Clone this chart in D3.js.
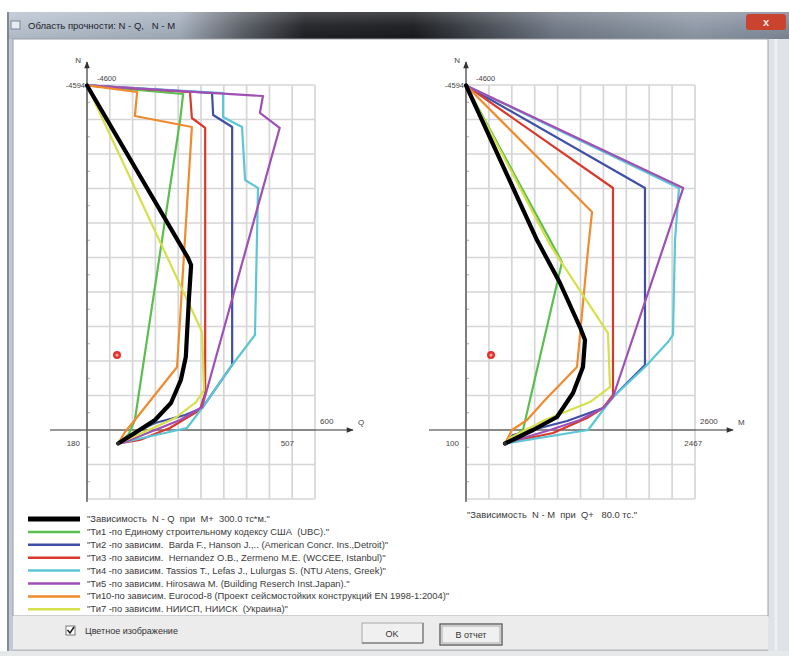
<!DOCTYPE html>
<html><head><meta charset="utf-8">
<script src="https://cdn.jsdelivr.net/npm/d3@7"></script>
<style>
body{margin:0;background:#fff;}
svg{display:block;font-family:"Liberation Sans",Arial,sans-serif;}
text{white-space:pre;}
</style>
</head><body>
<svg id="c" width="789" height="656"></svg>
<script>
// ---------------- DATA ----------------
const titleText = "Область прочности: N - Q,   N - M";
const seriesLabels = [
  "\"Зависимость  N - Q  при  M+  300.0 тс*м.\"",
  "\"Ти1 -по Единому строительному кодексу США  (UBC).\"",
  "\"Ти2 -по зависим.  Barda F., Hanson J.,.. (American Concr. Ins.,Detroit)\"",
  "\"Ти3 -по зависим.  Hernandez O.B., Zermeno M.E. (WCCEE, Istanbul)\"",
  "\"Ти4 -по зависим. Tassios T., Lefas J., Lulurgas S. (NTU Atens, Greek)\"",
  "\"Ти5 -по зависим. Hirosawa M. (Building Reserch Inst.Japan).\"",
  "\"Ти10-по зависим. Eurocod-8 (Проект сейсмостойких конструкций EN 1998-1:2004)\"",
  "\"Ти7 -по зависим. НИИСП, НИИСК  (Украина)\""
];
const seriesColors = ["#000000","#5bbf4e","#3f4fa8","#d8392b","#5cc6d6","#a04fb5","#f08a2c","#d6e04a"];
const rightCaption = "\"Зависимость  N - M  при  Q+   80.0 тс.\"";

// N - Q curves (Q values, N values) per series, same order as labels
const nqQ = [
  [0,266,274,268,260,247,221,179,126,82],
  [0,253,245,126,110,82],
  [0,329,332,382,382,303,258,179,113,82],
  [0,271,276,311,311,297,218,139,82],
  [0,358,358,408,416,450,442,382,303,263,82],
  [0,463,455,507,303,245,166,100,82],
  [0,132,126,276,237,126,100,82],
  [0,303,308,287,232,139,82]
];
const nqN = [
  [-4594,-2293,-2200,-1733,-973,-667,-360,-133,40,180],
  [-4594,-4480,-4133,-133,53,180],
  [-4594,-4493,-4200,-4040,-867,-293,-200,-93,67,180],
  [-4594,-4507,-4160,-4027,-493,-267,-27,133,180],
  [-4594,-4493,-4173,-4040,-3333,-3227,-1267,-867,-293,-27,180],
  [-4594,-4453,-4227,-4027,-307,-133,27,160,180],
  [-4594,-4507,-4187,-4040,-840,-133,27,180],
  [-4594,-1307,-533,-373,-160,53,180]
];
// N - M curves (M values, N values)
const nmM = [
  [0,806,1067,1294,1351,1328,1215,1033,761,443],
  [0,1090,647,443],
  [0,2032,2032,1669,1556,1147,840,534,443],
  [0,1669,1669,1556,1374,988,500,443],
  [0,2418,2373,2350,2293,2032,1669,1385,443],
  [0,2467,1669,1556,1294,954,500,443],
  [0,1431,1385,1260,897,693,522,443],
  [0,954,1612,1635,1408,897,500,443]
];
const nmN = [
  [-4594,-2533,-1960,-1373,-1200,-840,-493,-173,0,180],
  [-4594,-2240,0,180],
  [-4594,-3227,-867,-440,-293,-120,-27,67,180],
  [-4594,-3227,-467,-293,-160,40,160,180],
  [-4594,-3227,-2533,-1267,-1173,-840,-440,0,180],
  [-4594,-3227,-440,-293,-133,0,160,180],
  [-4594,-2907,-2400,-840,-400,-133,0,180],
  [-4594,-2467,-1293,-573,-373,-133,107,180]
];
const qTicks = [0,60,120,180,240,300,360,420,480,540,600];
const mTicks = [0,260,520,780,1040,1300,1560,1820,2080,2340,2600];
const nTicks = [-4600,-4140,-3680,-3220,-2760,-2300,-1840,-1380,-920,-460,0,460,920];
const pointQ = 79, pointM = 284, pointN = -1000;
const leftLabels = {top:"-4594", topR:"-4600", axis:"600", max:"507", min:"180", name:"Q"};
const rightLabels = {top:"-4594", topR:"-4600", axis:"2600", max:"2467", min:"100", name:"M"};
const maxQ = 507, maxM = 2467;

// ---------------- DRAW ----------------
const svg = d3.select("#c");
const defs = svg.append("defs");
const tg = defs.append("linearGradient").attr("id","tb").attr("gradientUnits","userSpaceOnUse")
  .attr("x1",7).attr("x2",789).attr("y1",0).attr("y2",0);
[["0%","#b7c2cf"],["22%","#a2adbb"],["30%","#5a5e66"],["38%","#1f2024"],["52%","#18191c"],["60%","#3e434b"],["70%","#6d7683"],["88%","#8d97a5"],["100%","#7d8796"]]
  .forEach(s=>tg.append("stop").attr("offset",s[0]).attr("stop-color",s[1]));
const tgv = defs.append("linearGradient").attr("id","tbv").attr("x1",0).attr("x2",0).attr("y1",0).attr("y2",1);
tgv.append("stop").attr("offset","0%").attr("stop-color","#fff").attr("stop-opacity",0.2);
tgv.append("stop").attr("offset","50%").attr("stop-color","#fff").attr("stop-opacity",0.05);
tgv.append("stop").attr("offset","100%").attr("stop-color","#000").attr("stop-opacity",0.05);

// window frame
svg.append("rect").attr("x",7).attr("y",12).attr("width",782).attr("height",640).attr("fill","#c3c9d2");
svg.append("rect").attr("x",7).attr("y",12).attr("width",782).attr("height",27).attr("fill","url(#tb)");
svg.append("rect").attr("x",7).attr("y",12).attr("width",782).attr("height",27).attr("fill","url(#tbv)");
svg.append("line").attr("x1",8).attr("x2",8).attr("y1",12).attr("y2",652).attr("stroke","#6d747e").attr("stroke-width",1.5);
svg.append("rect").attr("x",768).attr("y",39).attr("width",21).attr("height",613).attr("fill","#dfe2e6");
svg.append("line").attr("x1",776).attr("x2",776).attr("y1",39).attr("y2",650).attr("stroke","#eef0f2").attr("stroke-width",3);
// close button
svg.append("rect").attr("x",746).attr("y",14).attr("width",40).attr("height",16).attr("rx",3).attr("fill","#c9432e");
svg.append("text").attr("x",766).attr("y",26).attr("text-anchor","middle").attr("font-size",11).attr("font-weight","bold").attr("fill","#f4e8e4").text("x");
// icon + title
svg.append("rect").attr("x",11).attr("y",21).attr("width",9).attr("height",8).attr("fill","#e8ecf0").attr("stroke","#7a8594");
svg.append("text").attr("x",28).attr("y",29).attr("font-size",9.5).attr("fill","#1e2228").text(titleText);
// content
svg.append("rect").attr("x",13).attr("y",39).attr("width",755).attr("height",577).attr("fill","#fff").attr("stroke","#9a9ea4");
svg.append("rect").attr("x",13).attr("y",616).attr("width",755).attr("height",34).attr("fill","#ececec");
svg.append("line").attr("x1",13).attr("x2",768).attr("y1",650).attr("y2",650).attr("stroke","#b0b4b8");
svg.append("rect").attr("x",0).attr("y",651).attr("width",789).attr("height",5).attr("fill","#e6e8ea");

// scales
const yN = d3.scaleLinear().domain([-4600,0]).range([85,430]);
const xQ = d3.scaleLinear().domain([0,600]).range([87,315]);
const xM = d3.scaleLinear().domain([0,2600]).range([466,695]);

defs.append("marker").attr("id","arr").attr("viewBox","0 0 10 10").attr("refX",9).attr("refY",5)
  .attr("markerWidth",9).attr("markerHeight",7).attr("markerUnits","userSpaceOnUse").attr("orient","auto")
  .append("path").attr("d","M0,1 L10,5 L0,9 Z").attr("fill","#333");

function panel(xs, ticks, xsData, ysData, pointX, lab, maxVal){
  const g = svg.append("g");
  const x0 = xs(0), x1 = xs(xs.domain()[1]);
  const yTop = yN(-4600), yBot = yN(920);
  g.selectAll(".vg").data(ticks).join("line")
    .attr("x1",d=>xs(d)).attr("x2",d=>xs(d)).attr("y1",yTop).attr("y2",yBot)
    .attr("stroke","#d6d6d6").attr("stroke-width",1.7);
  g.selectAll(".hg").data(nTicks).join("line")
    .attr("x1",x0).attr("x2",x1).attr("y1",d=>yN(d)).attr("y2",d=>yN(d))
    .attr("stroke","#d6d6d6").attr("stroke-width",1.7);
  g.selectAll(".mt").data(nTicks.slice(0,-1)).join("line")
    .attr("x1",x0).attr("x2",x0+3).attr("y1",d=>yN(d+230)).attr("y2",d=>yN(d+230))
    .attr("stroke","#aaa");
  g.append("line").attr("x1",x0-37).attr("x2",x1+38).attr("y1",yN(0)).attr("y2",yN(0))
    .attr("stroke","#333").attr("stroke-width",1.2).attr("marker-end","url(#arr)");
  g.append("line").attr("x1",x0).attr("x2",x0).attr("y1",yBot+3).attr("y2",yTop-23)
    .attr("stroke","#555").attr("stroke-width",1.4).attr("marker-end","url(#arr)");
  const t = (x,y,s,anchor,size)=>g.append("text").attr("x",x).attr("y",y).attr("text-anchor",anchor||"start")
      .attr("font-size",size||8).attr("fill","#444").text(s);
  t(x0-6, yTop-22, "N", "end", 8);
  t(x0-2, yTop+3, lab.top, "end", 7.5);
  t(x0+10, yTop-4, lab.topR, "start", 7.5);
  t(x1+5, yN(0)-6, lab.axis, "start", 8);
  t(x1+43, yN(0)-5, lab.name, "start", 8);
  t(xs(maxVal)+1, yN(0)+16, lab.max, "start", 8);
  t(x0-7, yN(0)+16, lab.min, "end", 8);
  const line = d3.line().x(d=>xs(d[0])).y(d=>yN(d[1]));
  const order = d3.range(1, seriesLabels.length).concat([0]);
  order.forEach(i=>{
    const pts = xsData[i].map((v,k)=>[v, ysData[i][k]]);
    g.append("path").attr("d",line(pts)).attr("fill","none")
      .attr("stroke",seriesColors[i]).attr("stroke-width", i===0?4.2:2.2)
      .attr("stroke-linejoin","round").attr("stroke-linecap","round");
  });
  g.append("circle").attr("cx",xs(xsData[0][xsData[0].length-1])).attr("cy",yN(ysData[0][ysData[0].length-1]))
    .attr("r",1.8).attr("fill","#333");
  g.append("circle").attr("cx",xs(pointX)).attr("cy",yN(pointN)).attr("r",4).attr("fill","#e5322c");
  g.append("circle").attr("cx",xs(pointX)).attr("cy",yN(pointN)).attr("r",1.5).attr("fill","#f6b0a8");
}
panel(xQ, qTicks, nqQ, nqN, pointQ, leftLabels, maxQ);
panel(xM, mTicks, nmM, nmN, pointM, rightLabels, maxM);

// legend
const lg = svg.append("g");
seriesLabels.forEach((s,i)=>{
  const y = 519 + i*12.9;
  lg.append("line").attr("x1",28).attr("x2",80).attr("y1",y).attr("y2",y)
    .attr("stroke",seriesColors[i]).attr("stroke-width", i===0?5:2.5);
  lg.append("text").attr("x",87).attr("y",y+3).attr("font-size",9.4).attr("fill","#3a3a3a").text(s);
});
svg.append("text").attr("x",467).attr("y",518).attr("font-size",9.4).attr("fill","#3a3a3a").text(rightCaption);

// bottom controls
svg.append("rect").attr("x",66).attr("y",626).attr("width",9).attr("height",9).attr("fill","#fff").attr("stroke","#777");
svg.append("path").attr("d","M67.5,630 L70,633 L74,627").attr("fill","none").attr("stroke","#222").attr("stroke-width",1.6);
svg.append("text").attr("x",85).attr("y",634).attr("font-size",9).attr("fill","#333").text("Цветное изображение");
svg.append("rect").attr("x",362).attr("y",623).attr("width",61).attr("height",20).attr("fill","#f0f0f0").attr("stroke","#a8a8a8");
svg.append("line").attr("x1",362).attr("x2",423).attr("y1",643).attr("y2",643).attr("stroke","#666");
svg.append("line").attr("x1",423).attr("x2",423).attr("y1",623).attr("y2",643).attr("stroke","#666");
svg.append("text").attr("x",392).attr("y",637).attr("text-anchor","middle").attr("font-size",9).attr("fill","#333").text("OK");
svg.append("rect").attr("x",440).attr("y",624).attr("width",62).attr("height",21).attr("fill","#f0f0f0").attr("stroke","#555").attr("stroke-width",1.3);
svg.append("rect").attr("x",442).attr("y",626).attr("width",58).attr("height",17).attr("fill","none").attr("stroke","#999").attr("stroke-width",0.8);
svg.append("text").attr("x",471).attr("y",638).attr("text-anchor","middle").attr("font-size",9).attr("fill","#333").text("В отчет");
</script>
</body></html>
